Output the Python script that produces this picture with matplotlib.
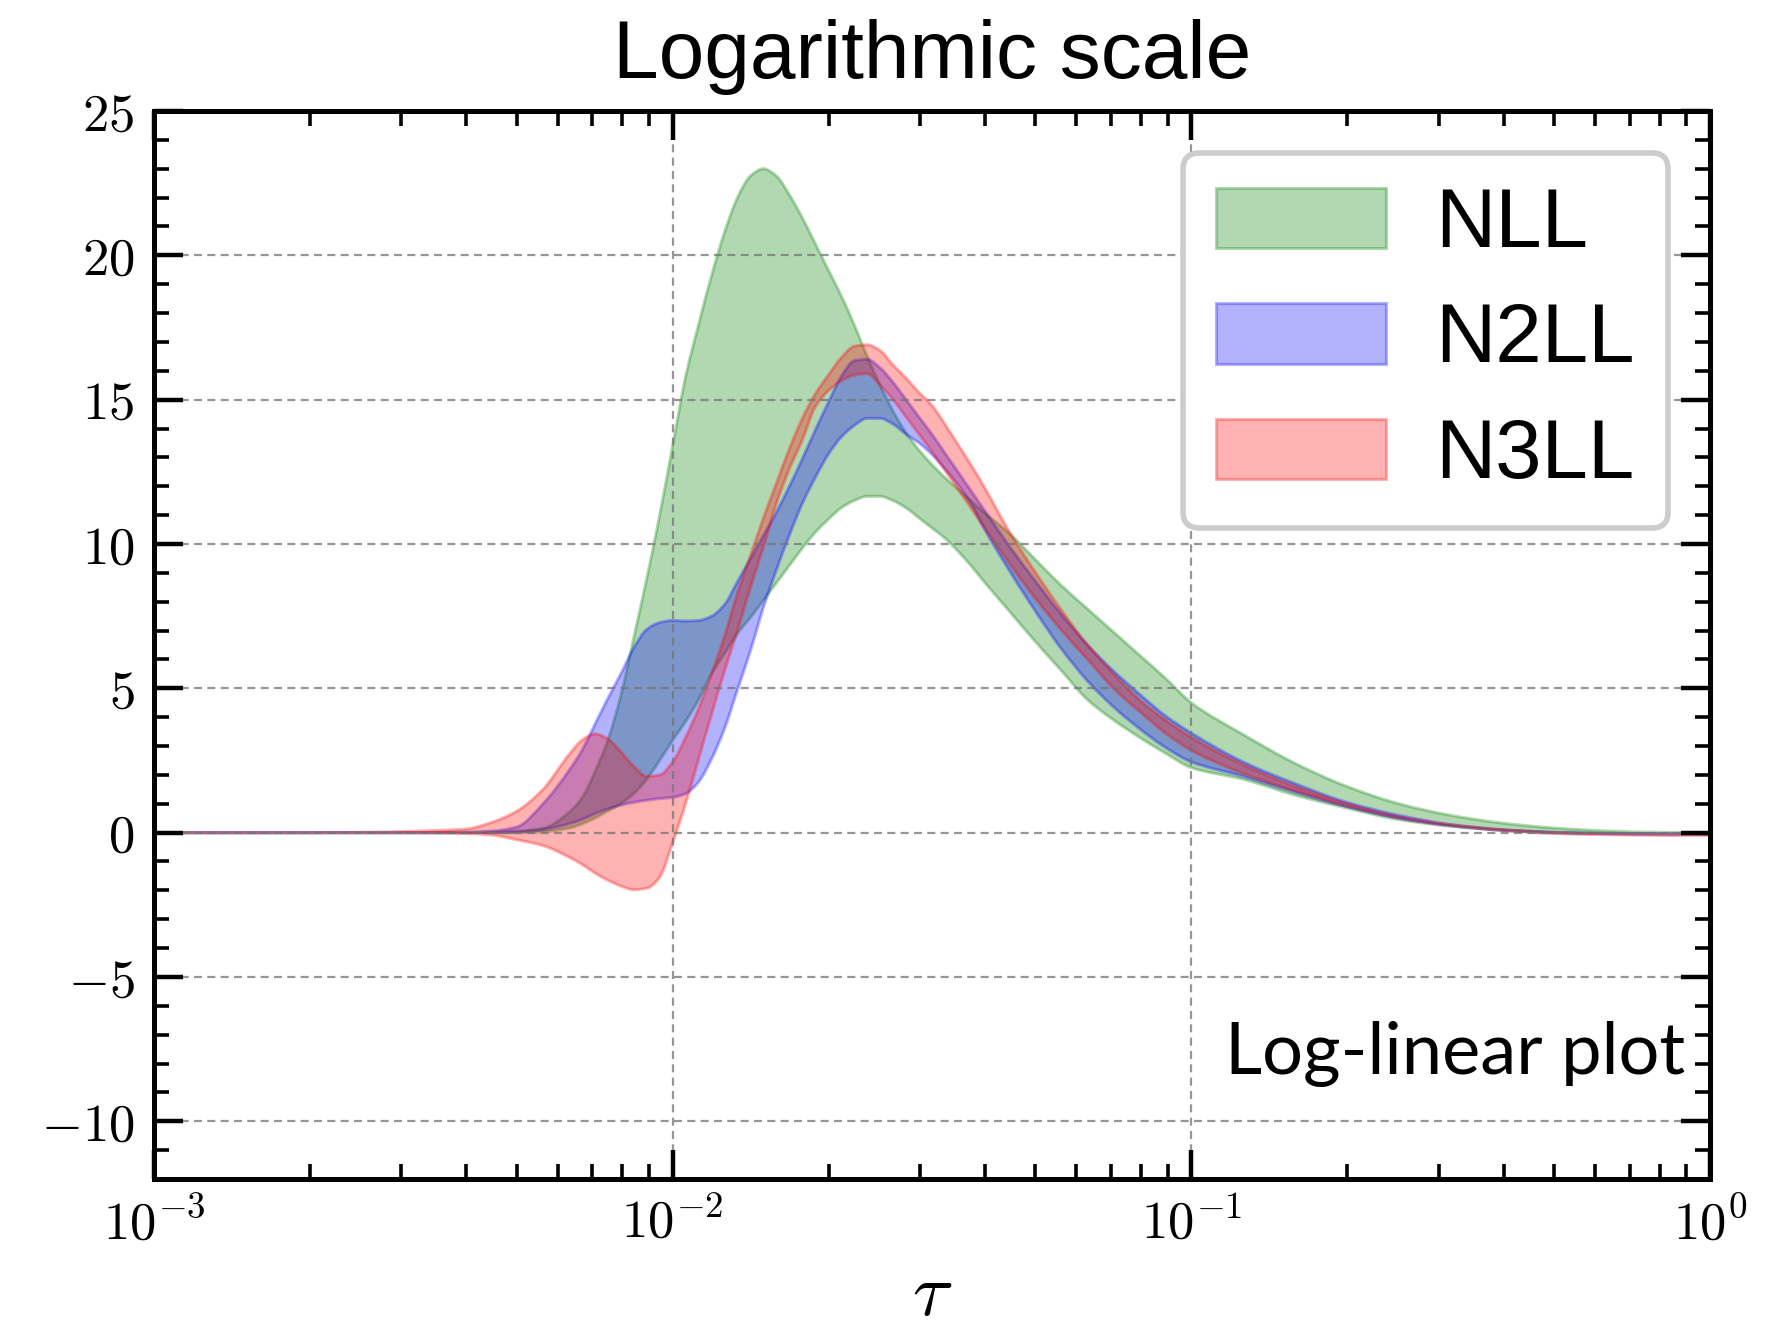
import numpy as np
import matplotlib
matplotlib.use("Agg")
import matplotlib.pyplot as plt
from matplotlib.path import Path
from matplotlib.patches import PathPatch
from matplotlib.ticker import FixedLocator, MultipleLocator, LogLocator, NullFormatter, FuncFormatter

# log10(tau) sample positions shared by all bands
log_tau = [-3.0, -2.8, -2.6, -2.5, -2.45, -2.4, -2.35, -2.3, -2.25, -2.2,
           -2.175, -2.15, -2.125, -2.1, -2.075, -2.05, -2.025, -2.0, -1.975, -1.95,
           -1.925, -1.9, -1.875, -1.85, -1.825, -1.8, -1.775, -1.75, -1.725, -1.7,
           -1.675, -1.65, -1.625, -1.6, -1.575, -1.55, -1.525, -1.5, -1.475, -1.45,
           -1.425, -1.4, -1.35, -1.3, -1.25, -1.2, -1.15, -1.1, -1.05, -1.0,
           -0.9, -0.8, -0.7, -0.6, -0.5, -0.4, -0.3, -0.2, -0.1, 0.0]

# NLL band
nll_hi = [0.0, 0.0, 0.0, 0.0, 0.0, 0.01, 0.02, 0.05, 0.15, 0.7,
          1.2, 2.1, 3.2, 4.75, 6.75, 8.8, 11.0, 13.4, 15.8, 17.6,
          19.3, 20.8, 22.0, 22.75, 23.0, 22.75, 22.1, 21.3, 20.4, 19.5,
          18.6, 17.6, 16.5, 15.5, 14.6, 13.85, 13.25, 12.75, 12.3, 11.9,
          11.5, 11.1, 10.35, 9.45, 8.55, 7.75, 6.95, 6.15, 5.35, 4.5,
          3.4, 2.4, 1.6, 1.0, 0.6, 0.33, 0.16, 0.06, 0.01, 0.0]
nll_lo = [0.0, 0.0, 0.0, 0.0, 0.0, 0.0, 0.0, 0.0, 0.03, 0.15,
          0.3, 0.5, 0.75, 1.0, 1.35, 1.85, 2.5, 3.2, 3.85, 4.6,
          5.5, 6.2, 6.9, 7.45, 8.05, 8.65, 9.25, 9.85, 10.4, 10.85,
          11.25, 11.5, 11.65, 11.65, 11.5, 11.25, 10.9, 10.55, 10.2, 9.75,
          9.25, 8.7, 7.65, 6.6, 5.6, 4.6, 3.9, 3.3, 2.75, 2.25,
          1.85, 1.3, 0.85, 0.45, 0.22, 0.08, 0.0, -0.03, -0.04, -0.04]

# N2LL band
n2ll_hi = [0.0, 0.0, 0.0, 0.0, 0.0, 0.01, 0.05, 0.2, 1.0, 2.15,
           2.85, 3.75, 4.65, 5.5, 6.4, 7.04, 7.28, 7.35, 7.33, 7.35,
           7.5, 7.9, 8.7, 9.5, 10.3, 11.1, 12.0, 12.95, 13.95, 14.9,
           15.8, 16.35, 16.4, 16.1, 15.6, 15.0, 14.4, 13.8, 13.15, 12.5,
           11.85, 11.2, 9.9, 8.7, 7.55, 6.5, 5.6, 4.8, 4.05, 3.45,
           2.45, 1.7, 1.05, 0.6, 0.28, 0.1, 0.01, -0.03, -0.05, -0.05]
n2ll_lo = [0.0, 0.0, 0.0, 0.0, 0.0, 0.0, 0.0, 0.02, 0.1, 0.3,
           0.45, 0.65, 0.82, 0.95, 1.05, 1.12, 1.18, 1.22, 1.35, 1.75,
           2.55, 3.6, 4.95, 6.3, 7.8, 9.1, 10.3, 11.4, 12.3, 13.1,
           13.7, 14.1, 14.35, 14.35, 14.15, 13.8, 13.5, 13.1, 12.6, 12.05,
           11.4, 10.55, 9.05, 7.65, 6.35, 5.25, 4.35, 3.6, 2.95, 2.45,
           1.95, 1.4, 0.9, 0.5, 0.24, 0.08, 0.0, -0.04, -0.05, -0.05]

# N3LL band
n3ll_hi = [0.0, 0.0, 0.01, 0.05, 0.08, 0.12, 0.35, 0.75, 1.5, 2.7,
           3.2, 3.42, 3.25, 2.8, 2.3, 1.95, 2.0, 2.45, 3.3, 4.3,
           5.5, 6.8, 8.3, 9.6, 10.9, 12.1, 13.3, 14.35, 15.2, 15.85,
           16.45, 16.85, 16.9, 16.7, 16.2, 15.75, 15.25, 14.8, 14.15, 13.45,
           12.75, 12.0, 10.4, 9.0, 7.7, 6.5, 5.5, 4.6, 3.9, 3.3,
           2.35, 1.6, 1.0, 0.55, 0.27, 0.1, 0.0, -0.05, -0.07, -0.08]
n3ll_lo = [0.0, 0.0, 0.0, 0.0, -0.01, -0.03, -0.08, -0.25, -0.45, -0.85,
           -1.1, -1.4, -1.65, -1.85, -1.98, -1.93, -1.55, -0.35, 1.0, 2.55,
           4.1, 5.6, 7.0, 8.5, 9.9, 11.4, 12.6, 13.6, 14.75, 15.3,
           15.65, 15.85, 15.9, 15.5, 15.0, 14.4, 13.8, 13.2, 12.55, 11.9,
           11.25, 10.6, 9.3, 8.1, 7.0, 6.0, 5.0, 4.2, 3.45, 2.85,
           2.05, 1.45, 0.93, 0.52, 0.25, 0.08, -0.03, -0.07, -0.09, -0.1]

band_labels = ["NLL", "N2LL", "N3LL"]
band_colors = ["g", "b", "r"]

x_ticks = [1e-3, 1e-2, 1e-1, 1e0]
y_ticks = [-10, -5, 0, 5, 10, 15, 20, 25]

plt.rcParams["mathtext.fontset"] = "cm"
plt.rcParams["font.family"] = ["Liberation Sans", "DejaVu Sans"]


def monotone_slopes(x, y):
    """Shape-preserving tangents so the drawn edge passes through every sample."""
    h = np.diff(x)
    d = np.diff(y) / h
    m = np.zeros_like(y)
    m[0], m[-1] = d[0], d[-1]
    for k in range(1, len(y) - 1):
        if d[k - 1] * d[k] > 0:
            w1 = 2 * h[k] + h[k - 1]
            w2 = h[k] + 2 * h[k - 1]
            m[k] = (w1 + w2) / (w1 / d[k - 1] + w2 / d[k])
    return m


def edge_segments(x, y, reverse=False):
    """Cubic Bezier pieces (in log10-tau / value space) through the samples."""
    m = monotone_slopes(x, y)
    verts = []
    n = len(x)
    idx = range(n - 1, 0, -1) if reverse else range(n - 1)
    for i in idx:
        j = i - 1 if reverse else i + 1
        h = (x[j] - x[i]) / 3.0
        verts += [(x[i] + h, y[i] + m[i] * h), (x[j] - h, y[j] - m[j] * h), (x[j], y[j])]
    return verts


def band_path(x, lo, hi):
    x = np.asarray(x, float)
    lo = np.asarray(lo, float)
    hi = np.asarray(hi, float)
    verts = [(x[0], hi[0])]
    codes = [Path.MOVETO]
    up = edge_segments(x, hi)
    verts += up
    codes += [Path.CURVE4] * len(up)
    verts.append((x[-1], lo[-1]))
    codes.append(Path.LINETO)
    down = edge_segments(x, lo, reverse=True)
    verts += down
    codes += [Path.CURVE4] * len(down)
    verts.append((x[0], hi[0]))
    codes.append(Path.CLOSEPOLY)
    verts = np.array(verts)
    verts[:, 0] = 10.0 ** verts[:, 0]  # to tau, drawn on the log axis
    return Path(verts, codes)


bands = [(nll_lo, nll_hi), (n2ll_lo, n2ll_hi), (n3ll_lo, n3ll_hi)]

fig = plt.figure(figsize=(8.86, 6.65), dpi=200)
ax = fig.add_axes([154 / 1772, 1 - 1179 / 1330, (1710 - 154) / 1772, (1179 - 111) / 1330])

ax.set_xscale("log")
ax.set_xlim(1e-3, 1e0)
ax.set_ylim(-12, 25)

for (lo, hi), lab, col in zip(bands, band_labels, band_colors):
    ax.add_patch(PathPatch(band_path(log_tau, lo, hi), facecolor=col, edgecolor=col,
                           alpha=0.3, linewidth=1.1, label=lab))

ax.xaxis.set_major_locator(FixedLocator(x_ticks))
ax.xaxis.set_major_formatter(FuncFormatter(lambda v, p: r"$10^{%d}$" % round(np.log10(v))))
ax.xaxis.set_minor_locator(LogLocator(base=10, subs=np.arange(2, 10)))
ax.xaxis.set_minor_formatter(NullFormatter())
ax.yaxis.set_major_locator(FixedLocator(y_ticks))
ax.yaxis.set_major_formatter(FuncFormatter(lambda v, p: r"$%d$" % v))
ax.yaxis.set_minor_locator(MultipleLocator(1))

ax.grid(True, which="major", color="0.45", alpha=0.75, linewidth=0.8,
        linestyle=(0, (3.6, 2.4)))

ax.tick_params(which="both", direction="in", top=True, right=True)
ax.tick_params(which="major", length=10.5, width=1.6, labelsize=19, pad=7)
ax.tick_params(which="minor", length=5.5, width=1.3)
for sp in ax.spines.values():
    sp.set_linewidth(1.8)

ax.set_title("Logarithmic scale", fontsize=29.5, pad=12)
ax.set_xlabel(r"$\tau$", fontsize=27, labelpad=4)

leg = ax.legend(loc="upper right", fontsize=30, frameon=True, fancybox=True,
                framealpha=1, edgecolor="#cccccc", handlelength=2.03,
                handleheight=0.74, handletextpad=0.6, labelspacing=0.45,
                borderpad=0.4, borderaxespad=0.5)
leg.get_frame().set_linewidth(2.0)

ax.text(0.984, 0.098, "Log-linear plot", transform=ax.transAxes, ha="right",
        va="baseline", fontsize=26, family="Lato")

fig.savefig("out.png", dpi=200)
